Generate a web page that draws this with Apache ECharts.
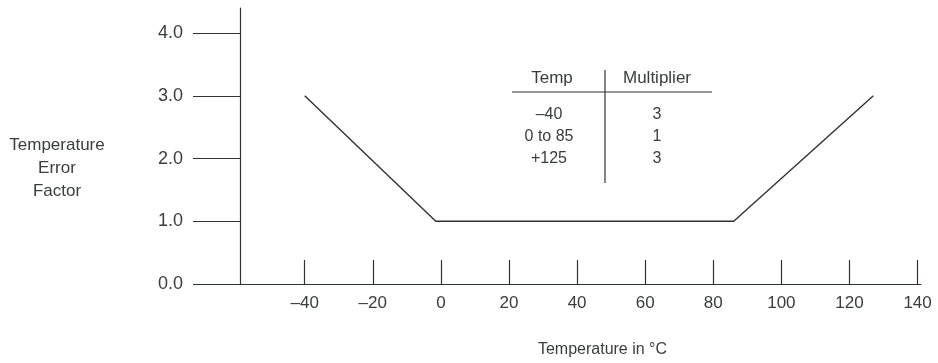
<!DOCTYPE html>
<html>
<head>
<meta charset="utf-8">
<script src="https://cdn.jsdelivr.net/npm/echarts@6/dist/echarts.min.js"></script>
<style>
  html, body { margin: 0; padding: 0; background: #ffffff; }
  #chart { width: 938px; height: 363px; }
</style>
</head>
<body>
<div id="chart"></div>
<script>
// Temperature error multiplier curve
const curveTemps = [-40, -1.5, 86, 127];
const curveFactors = [3, 1, 1, 3];

// Axis ticks
const xTickValues = [-40, -20, 0, 20, 40, 60, 80, 100, 120, 140];
const yTickValues = [0, 1, 2, 3, 4];

// Inset table
const tableHeaders = ['Temp', 'Multiplier'];
const tableTemps = ['\u201340', '0 to 85', '+125'];
const tableMultipliers = ['3', '1', '3'];

const INK = '#2f3432';
const TEXT = '#3a3d3c';
const FONT = '"Liberation Sans", Arial, sans-serif';

const chart = echarts.init(document.getElementById('chart'), null, { renderer: 'canvas' });

const rowY = [115, 137, 159];
const tableGraphics = [
  { type: 'text', x: 552, y: 78, style: { text: tableHeaders[0], fill: TEXT, font: '17px ' + FONT, align: 'center', verticalAlign: 'middle' } },
  { type: 'text', x: 657, y: 78, style: { text: tableHeaders[1], fill: TEXT, font: '17px ' + FONT, align: 'center', verticalAlign: 'middle' } },
  { type: 'line', shape: { x1: 512, y1: 92, x2: 712, y2: 92 }, style: { stroke: INK, lineWidth: 1.2 } },
  { type: 'line', shape: { x1: 605, y1: 70, x2: 605, y2: 183 }, style: { stroke: INK, lineWidth: 1.2 } }
];
tableTemps.forEach((t, i) => {
  tableGraphics.push({ type: 'text', x: 549, y: rowY[i], style: { text: t, fill: TEXT, font: '16px ' + FONT, align: 'center', verticalAlign: 'middle' } });
  tableGraphics.push({ type: 'text', x: 657, y: rowY[i], style: { text: tableMultipliers[i], fill: TEXT, font: '16px ' + FONT, align: 'center', verticalAlign: 'middle' } });
});

const option = {
  backgroundColor: '#ffffff',
  animation: false,
  grid: { left: 240, top: 8, width: 681, height: 276, containLabel: false },
  xAxis: {
    type: 'value',
    min: -59,
    max: 141,
    splitLine: { show: false },
    axisLine: { show: true, onZero: false, lineStyle: { color: INK, width: 1.2 } },
    axisTick: { show: true, inside: true, length: 24, customValues: xTickValues, lineStyle: { color: INK, width: 1.2 } },
    axisLabel: {
      customValues: xTickValues,
      margin: 11,
      color: TEXT,
      fontSize: 17,
      fontFamily: FONT,
      formatter: v => (v < 0 ? '\u2013' + Math.abs(v) : String(v))
    },
    name: 'Temperature in \u00B0C',
    nameLocation: 'middle',
    nameGap: 58,
    nameTextStyle: { color: TEXT, fontSize: 16, fontFamily: FONT, padding: [0, 0, 0, 44] }
  },
  yAxis: {
    type: 'value',
    min: 0,
    max: 4.4,
    splitLine: { show: false },
    axisLine: { show: true, onZero: false, lineStyle: { color: INK, width: 1.2 } },
    axisTick: { show: true, inside: false, length: 47, customValues: yTickValues, lineStyle: { color: INK, width: 1.2 } },
    axisLabel: {
      customValues: yTickValues,
      margin: 57,
      color: TEXT,
      fontSize: 18,
      fontFamily: FONT,
      formatter: v => v.toFixed(1)
    }
  },
  graphic: [
    {
      type: 'text',
      x: 57,
      y: 168,
      style: {
        text: 'Temperature\nError\nFactor',
        fill: TEXT,
        font: '17px ' + FONT,
        lineHeight: 23,
        align: 'center',
        verticalAlign: 'middle'
      }
    }
  ].concat(tableGraphics),
  series: [
    {
      type: 'line',
      data: curveTemps.map((t, i) => [t, curveFactors[i]]),
      symbol: 'none',
      lineStyle: { color: INK, width: 1.4 },
      silent: true
    }
  ]
};

chart.setOption(option);
</script>
</body>
</html>
